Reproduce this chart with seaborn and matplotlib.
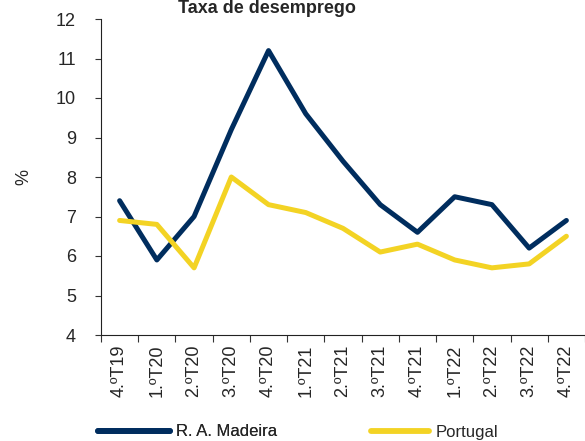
import pandas as pd
import matplotlib
matplotlib.use("Agg")
import matplotlib.pyplot as plt
import seaborn as sns

# Quarters and unemployment rates (%)
quarters = ["4.ºT19", "1.ºT20", "2.ºT20", "3.ºT20", "4.ºT20", "1.ºT21", "2.ºT21",
            "3.ºT21", "4.ºT21", "1.ºT22", "2.ºT22", "3.ºT22", "4.ºT22"]
madeira = [7.4, 5.9, 7.0, 9.2, 11.2, 9.6, 8.4, 7.3, 6.6, 7.5, 7.3, 6.2, 6.9]
portugal = [6.9, 6.8, 5.7, 8.0, 7.3, 7.1, 6.7, 6.1, 6.3, 5.9, 5.7, 5.8, 6.5]
series_names = ["R. A. Madeira", "Portugal"]
colors = ["#002D5E", "#F3D324"]

df = pd.DataFrame({
    "Trimestre": quarters * 2,
    "Taxa": madeira + portugal,
    "Serie": [series_names[0]] * len(quarters) + [series_names[1]] * len(quarters),
})

sns.set_style("ticks")
plt.rcParams["font.family"] = ["Liberation Sans", "DejaVu Sans"]
plt.rcParams["font.size"] = 13

fig = plt.figure(figsize=(5.85, 4.41), dpi=100)
ax = fig.add_axes([101 / 585, 1 - 335 / 441, 1 - 101 / 585, (335 - 19) / 441])

sns.lineplot(data=df, x="Trimestre", y="Taxa", hue="Serie", palette=colors,
             linewidth=3.6, sort=False, ax=ax, legend=False)

ax.set_ylim(4, 12)
ax.set_yticks(range(4, 13))
ax.set_xlim(-0.5, len(quarters) - 0.5)
ax.set_xticks(range(len(quarters)))
ax.set_xticklabels(quarters, rotation=90)
ax.set_xticks([i - 0.5 for i in range(len(quarters) + 1)], minor=True)
ax.tick_params(axis="x", which="major", length=0, pad=7, labelsize=13)
ax.tick_params(axis="x", which="minor", length=5, width=0.8, color="#333333")
ax.tick_params(axis="y", length=4, width=0.8, color="#333333", labelsize=13, pad=14)
ax.set_xlabel("")
ax.set_ylabel("%", fontsize=13, labelpad=17)
for side in ["top", "right"]:
    ax.spines[side].set_visible(False)
for side in ["left", "bottom"]:
    ax.spines[side].set_linewidth(0.8)
    ax.spines[side].set_color("#222222")

fig.text(267 / 585, 1.0, "Taxa de desemprego", ha="center", va="top",
         fontsize=13, fontweight="bold")

# two legend entries with different handle lengths, as in the source chart
h1 = [plt.Line2D([], [], color=colors[0], linewidth=4.2, solid_capstyle="round")]
h2 = [plt.Line2D([], [], color=colors[1], linewidth=4.2, solid_capstyle="round")]
leg1 = fig.legend(h1, [series_names[0]], loc="center left", bbox_to_anchor=(98 / 585, 1 - 432 / 441),
                  frameon=False, borderpad=0, handlelength=4.3, handletextpad=0.4,
                  fontsize=12, borderaxespad=0)
fig.add_artist(leg1)
fig.legend(h2, [series_names[1]], loc="center left", bbox_to_anchor=(371 / 585, 1 - 432 / 441),
           frameon=False, borderpad=0, handlelength=3.5, handletextpad=0.4,
           fontsize=12, borderaxespad=0)

fig.savefig("out.png", dpi=100)
